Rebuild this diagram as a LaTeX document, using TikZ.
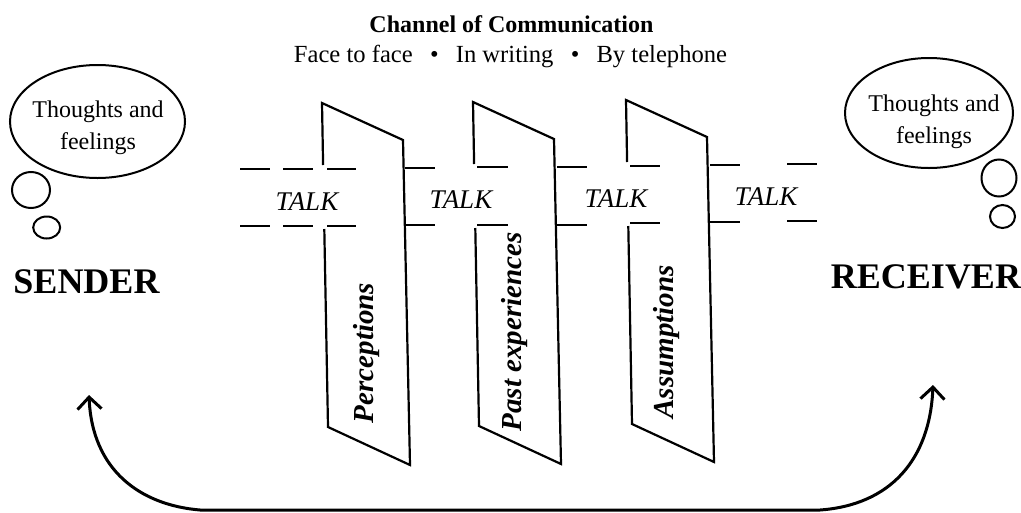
\documentclass[tikz,border=0pt]{standalone}
\usepackage{fontspec}
\setmainfont{Liberation Serif}
\usetikzlibrary{arrows.meta, positioning, shapes.geometric, calc}
\tikzset{
  every picture/.style={line width=2pt, x=1pt, y=-1pt},
  bubble/.style={draw, ellipse, inner sep=0pt, line width=2pt},
  thought/.style={font=\fontsize{24}{31.5}\selectfont, align=center, inner sep=0pt},
  party/.style={font=\fontsize{36}{36}\selectfont\bfseries, inner sep=0pt},
  talk/.style={font=\fontsize{27}{27}\selectfont\itshape, inner sep=0pt},
  filtertext/.style={rotate=90, font=\fontsize{29}{29}\selectfont\bfseries\itshape, inner sep=0pt},
  heading/.style={font=\fontsize{24}{24}\selectfont\bfseries, inner sep=0pt},
  subheading/.style={font=\fontsize{24.6}{24.6}\selectfont, inner sep=0pt},
  panel/.style={line width=2.2pt, line join=miter},
  chan/.style={line width=2.8pt},
  feedback/.style={{Straight Barb[length=12pt,width=24pt]}-{Straight Barb[length=12pt,width=24pt]}, line width=3pt},
}

\begin{document}
\begin{tikzpicture}
  \useasboundingbox (0,0) rectangle (1021,512);

  % heading
  \node[heading, anchor=base] (title) at (511.5,32) {Channel of Communication};
  \node[subheading, anchor=base] (media) at (510.5,62)
    {Face to face\hspace{0.7em}\textbullet\hspace{0.7em}In writing\hspace{0.7em}\textbullet\hspace{0.7em}By telephone};

  % sender side
  \node[bubble, minimum width=175pt, minimum height=113pt] (sthought) at (97.5,121.5) {};
  \node[thought] (stext) at (98,128) {Thoughts and\\feelings};
  \node[bubble, minimum width=38pt, minimum height=36pt] (sbig) at (31,190) {};
  \node[bubble, minimum width=27pt, minimum height=22pt] (ssmall) at (46.7,227.5) {};
  \node[party, anchor=base] (sender) at (86.5,293) {SENDER};

  % receiver side
  \node[bubble, minimum width=168pt, minimum height=110pt] (rthought) at (929,113) {};
  \node[thought] (rtext) at (934,122) {Thoughts and\\feelings};
  \node[bubble, minimum width=35pt, minimum height=37pt] (rbig) at (999,178) {};
  \node[bubble, minimum width=25pt, minimum height=23pt] (rsmall) at (1002.5,216.5) {};
  \node[party, anchor=base] (receiver) at (926,288) {RECEIVER};

  % filters
  \foreach \px/\py in {322/103, 473/102, 626/100}
    \draw[panel] (\px+1.1,\py+62) -- (\px,\py) -- (\px+81,\py+37) -- (\px+88,\py+362)
      -- (\px+6,\py+324) -- (\px+2.3,\py+126);
  \node[filtertext] (perc) at (367,353) {Perceptions};
  \node[filtertext] (past) at (515,332) {Past experiences};
  \node[filtertext] (assum) at (667,342) {Assumptions};

  % channel
  \foreach \xa/\xb/\yt/\yb in {240/270/169/226, 283/313/169/226, 327/356/169/226,
      405/435/168/225, 477/508/167/225, 557/587/167/225, 630/660/166/223,
      710/740/165/222, 787/817/164/221} {
    \draw[chan] (\xa,\yt) -- (\xb,\yt);
    \draw[chan] (\xa,\yb) -- (\xb,\yb);
  }
  \node[talk, anchor=base] (talka) at (307,210) {TALK};
  \node[talk, anchor=base] (talkb) at (461,208) {TALK};
  \node[talk, anchor=base] (talkc) at (616,207) {TALK};
  \node[talk, anchor=base] (talkd) at (766,205) {TALK};

  % feedback
  \coordinate (sfb) at (89,395);
  \coordinate (rfb) at (933,385);
  \coordinate (fbl) at (200,510);
  \coordinate (fbr) at (820,510);
  \draw[feedback] (sfb) .. controls (92,470) and (140,505) .. (fbl) -- (fbr)
    .. controls (890,505) and (930,460) .. (rfb);
\end{tikzpicture}
\end{document}
